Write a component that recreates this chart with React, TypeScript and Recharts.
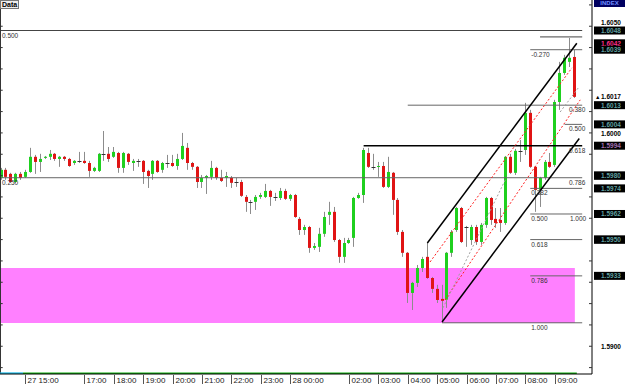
import React from "react";
import {
  ComposedChart,
  Bar,
  XAxis,
  YAxis,
  ReferenceLine,
  ReferenceArea,
  ReferenceDot,
} from "recharts";

// 10-minute candles, 27th 14:10 -> 28th 09:40
const opens = [
  1.59789, 1.59827, 1.59808, 1.5977, 1.59808, 1.59794, 1.59817, 1.59888, 1.59864, 1.59883,
  1.59888, 1.59902, 1.59878, 1.59888, 1.59878, 1.59859, 1.59869, 1.59869, 1.59859, 1.59822,
  1.59822, 1.59902, 1.59902, 1.59888, 1.59906, 1.59836, 1.59902, 1.59859, 1.59869, 1.59869,
  1.59822, 1.59808, 1.59869, 1.59827, 1.59859, 1.59859, 1.59845, 1.59878, 1.5993, 1.59859,
  1.59841, 1.5977, 1.59789, 1.59794, 1.59836, 1.59789, 1.59789, 1.59789, 1.5977, 1.5977,
  1.597, 1.59677, 1.59677, 1.597, 1.597, 1.59728, 1.597, 1.59695, 1.59728, 1.59691,
  1.59709, 1.59597, 1.59545, 1.59559, 1.59461, 1.59466, 1.59527, 1.59616, 1.5963, 1.59498,
  1.59419, 1.59484, 1.59508, 1.59695, 1.59709, 1.59906, 1.59841, 1.59841, 1.59845, 1.59747,
  1.59813, 1.59686, 1.59536, 1.59438, 1.5925, 1.59297, 1.59367, 1.59419, 1.5932, 1.59269,
  1.59222, 1.59217, 1.59438, 1.59545, 1.59648, 1.59559, 1.59498, 1.59559, 1.59489, 1.59569,
  1.59695, 1.59597, 1.59592, 1.59578, 1.59888, 1.59813, 1.59916, 1.5992, 1.60094, 1.59841,
  1.59733, 1.59789, 1.59864, 1.5985, 1.60145, 1.60281, 1.60333, 1.60356,
];
const highs = [
  1.59836, 1.59836, 1.59813, 1.59813, 1.59817, 1.59827, 1.5993, 1.59897, 1.59902, 1.59892,
  1.5992, 1.59906, 1.59892, 1.59892, 1.59883, 1.59873, 1.59911, 1.59911, 1.59869, 1.59841,
  1.59906, 1.60009, 1.59934, 1.59934, 1.59911, 1.59911, 1.59906, 1.59878, 1.59878, 1.59873,
  1.59827, 1.59873, 1.59873, 1.59864, 1.59897, 1.59897, 1.59902, 1.6, 1.59953, 1.59864,
  1.59845, 1.59803, 1.59803, 1.59869, 1.59841, 1.59827, 1.59817, 1.59798, 1.59789, 1.5978,
  1.59709, 1.59686, 1.59709, 1.59719, 1.59761, 1.59733, 1.59719, 1.59742, 1.59738, 1.59714,
  1.59714, 1.59606, 1.59569, 1.59564, 1.59484, 1.59555, 1.5963, 1.59677, 1.59653, 1.59503,
  1.59508, 1.59508, 1.597, 1.59719, 1.5993, 1.5993, 1.59902, 1.59864, 1.59864, 1.59888,
  1.59817, 1.59695, 1.59545, 1.59442, 1.59302, 1.59381, 1.59419, 1.59484, 1.59325, 1.59288,
  1.59288, 1.59442, 1.59545, 1.59653, 1.59653, 1.59564, 1.59569, 1.59569, 1.59578, 1.597,
  1.597, 1.59648, 1.59648, 1.59892, 1.59902, 1.59925, 1.59967, 1.60141, 1.60108, 1.59845,
  1.59794, 1.59873, 1.59906, 1.60155, 1.60333, 1.60366, 1.60445, 1.60389,
];
const lows = [
  1.5978, 1.5978, 1.59766, 1.59766, 1.5978, 1.59789, 1.59813, 1.59808, 1.59817, 1.59878,
  1.59873, 1.59869, 1.59841, 1.59869, 1.59841, 1.5985, 1.59859, 1.59855, 1.59794, 1.59817,
  1.59817, 1.59869, 1.59864, 1.59883, 1.59813, 1.59813, 1.5985, 1.59822, 1.59841, 1.59761,
  1.59742, 1.5978, 1.59813, 1.59813, 1.59836, 1.59841, 1.59827, 1.59873, 1.59827, 1.59827,
  1.59742, 1.59742, 1.59714, 1.5978, 1.5978, 1.5977, 1.59747, 1.59742, 1.59747, 1.597,
  1.5963, 1.5962, 1.59639, 1.59691, 1.59695, 1.59658, 1.59681, 1.59686, 1.59686, 1.59681,
  1.59602, 1.59522, 1.59522, 1.59438, 1.59452, 1.59442, 1.59513, 1.59569, 1.59489, 1.59391,
  1.59391, 1.5948, 1.59466, 1.59691, 1.59672, 1.59836, 1.59827, 1.59794, 1.59742, 1.59742,
  1.59616, 1.59522, 1.59419, 1.59203, 1.5917, 1.59278, 1.59348, 1.59316, 1.5925, 1.59203,
  1.59114, 1.5918, 1.59419, 1.59536, 1.59484, 1.59466, 1.59475, 1.59475, 1.59475, 1.59555,
  1.59569, 1.59555, 1.59536, 1.59569, 1.59808, 1.59803, 1.59864, 1.59897, 1.59836, 1.5963,
  1.59653, 1.5978, 1.59836, 1.59841, 1.60108, 1.60272, 1.60309, 1.60164,
];
const closes = [
  1.59827, 1.59794, 1.5977, 1.59808, 1.59789, 1.59817, 1.59888, 1.59864, 1.59878, 1.59888,
  1.59902, 1.59878, 1.59888, 1.59878, 1.59845, 1.59869, 1.59869, 1.59859, 1.59822, 1.59836,
  1.59902, 1.59902, 1.59878, 1.59911, 1.59836, 1.59906, 1.59864, 1.59869, 1.59869, 1.59817,
  1.59798, 1.59869, 1.59817, 1.59859, 1.59859, 1.59845, 1.59878, 1.59939, 1.59859, 1.59841,
  1.5977, 1.59789, 1.59798, 1.59836, 1.59789, 1.59775, 1.59798, 1.59766, 1.5977, 1.59705,
  1.59677, 1.59677, 1.597, 1.59709, 1.59728, 1.597, 1.597, 1.59728, 1.59691, 1.59709,
  1.59606, 1.59545, 1.59559, 1.59461, 1.5947, 1.59527, 1.59606, 1.5963, 1.59498, 1.59419,
  1.59484, 1.59498, 1.59695, 1.59709, 1.5992, 1.59841, 1.59841, 1.59845, 1.59747, 1.59817,
  1.59686, 1.59536, 1.59438, 1.5925, 1.59297, 1.59367, 1.59409, 1.5932, 1.59269, 1.59217,
  1.59213, 1.59438, 1.59536, 1.59648, 1.59489, 1.59559, 1.59559, 1.59489, 1.59569, 1.59695,
  1.59592, 1.59578, 1.59578, 1.59888, 1.59813, 1.59916, 1.59916, 1.60094, 1.59841, 1.59733,
  1.59789, 1.59864, 1.59841, 1.60145, 1.60281, 1.60352, 1.60352, 1.60169,
];

const hourTicks = [5, 17, 23, 29, 35, 41, 47, 53, 59, 71, 77, 83, 89, 95, 101, 107, 113];
const hourLabels = [
  "27 15:00", "17:00", "18:00", "19:00", "20:00", "21:00", "22:00", "23:00",
  "28 00:00", "02:00", "03:00", "04:00", "05:00", "06:00", "07:00", "08:00", "09:00",
];

const priceTicks = [
  1.589, 1.59, 1.591, 1.592, 1.593, 1.594, 1.595, 1.596, 1.597,
  1.598, 1.599, 1.6, 1.601, 1.602, 1.603, 1.604, 1.605, 1.606,
];
const priceLabels = [1.59, 1.6, 1.605];

// price tags in the right margin
const tagPrices = [1.6048, 1.6042, 1.6039, 1.6013, 1.6004, 1.5994, 1.598, 1.5974, 1.5962, 1.595, 1.5933];
const tagColors = ["#5f9f9f", "#ff2e8a", "#5f9f9f", "#5f9f9f", "#5f9f9f", "#a070b0", "#5f9f9f", "#5f9f9f", "#5f9f9f", "#5f9f9f", "#5f9f9f"];
const lastPrice = 1.6017;

// fibonacci / horizontal levels: price, from candle
const levelPrices = [1.6048, 1.6045, 1.6039, 1.6013, 1.6004, 1.5994, 1.5979, 1.5974, 1.5962, 1.595, 1.5933, 1.5911];
const levelFrom = [-0.2, 110, 108, 83, 115, 74, -0.2, 108, 108, 108, 108, 90];
const levelText = [
  { at: 0, p: 1.6048, t: "0.500" },
  { at: 0, p: 1.5979, t: "0.250" },
  { at: 108, p: 1.6039, t: "-0.270" },
  { at: 115.7, p: 1.6013, t: "0.380" },
  { at: 115.7, p: 1.6004, t: "0.500" },
  { at: 115.7, p: 1.5994, t: "0.618" },
  { at: 115.7, p: 1.5979, t: "0.786" },
  { at: 108, p: 1.5974, t: "0.382" },
  { at: 108, p: 1.5962, t: "0.500" },
  { at: 115.9, p: 1.5962, t: "1.000" },
  { at: 108, p: 1.595, t: "0.618" },
  { at: 108, p: 1.5933, t: "0.786" },
  { at: 108, p: 1.5911, t: "1.000" },
];

// channel + inner lines [x1, y1, x2, y2]
const channelLines = [
  [87, 1.59484, 117.5, 1.6042],
  [90, 1.59114, 118, 1.59974],
];
const redLines = [
  [87.55, 1.59395, 116.5, 1.60305],
  [90.6, 1.59217, 118.2, 1.60155],
];
const greyLines = [
  [90.2, 1.5918, 102.9, 1.5978],
  [114.1, 1.60098, 117.8, 1.60211],
];

const zone = { x1: -0.2, x2: 117.1, lo: 1.59109, hi: 1.59367 };

const Y_TOP = 1.60623;
const Y_BOT = 1.5887;
const X_MIN = -0.2;
const X_MAX = 120.6;
const LINE_END = 118.6;
const PLOT_RIGHT = 592;

const GREEN = "#1fd01f";
const RED = "#e01414";
const FONT = "'Liberation Sans', Arial, sans-serif";

const candles = opens.map((o, i) => ({
  i,
  o,
  h: highs[i],
  l: lows[i],
  c: closes[i],
  range: [lows[i], highs[i]],
}));

const near = (a: number, b: number, tol = 0.000001) => Math.abs(a - b) < tol;

const Candle = (props: any) => {
  const { x, y, width, height, payload } = props;
  const { o, h, l, c } = payload;
  const top = Math.min(y, y + height);
  const bot = Math.max(y, y + height);
  const span = h - l || 1;
  const py = (p: number) => top + ((h - p) / span) * (bot - top);
  const cx = Math.floor(x + width / 2) + 0.5;
  const bTop = py(Math.max(o, c));
  const bBot = py(Math.min(o, c));
  const doji = Math.abs(c - o) < 0.00003;
  return (
    <g>
      <line x1={cx} x2={cx} y1={top} y2={bot} stroke="#8c8c8c" strokeWidth={1} />
      {doji ? (
        <line x1={cx - 2} x2={cx + 2} y1={Math.round(bTop) + 0.5} y2={Math.round(bTop) + 0.5} stroke="#333" />
      ) : (
        <rect
          x={cx - 1.5}
          y={bTop}
          width={3}
          height={Math.max(1, bBot - bTop)}
          fill={c > o ? GREEN : RED}
        />
      )}
    </g>
  );
};

const TimeTick = (props: any) => {
  const { x, payload } = props;
  const k = hourTicks.indexOf(payload.value);
  const px = Math.round(x) + 0.5;
  return (
    <g>
      <line x1={px} x2={px} y1={375} y2={384} stroke="#555" />
      <text x={px + 2} y={382.5} fontSize={8} fontFamily={FONT} fill="#222">
        {hourLabels[k]}
      </text>
    </g>
  );
};

// nudge a plain scale label away from a price tag sitting right next to it
const labelOffset = (v: number) => {
  const above = tagPrices.some((p) => p > v && p - v < 0.0005);
  const below = tagPrices.some((p) => p < v && v - p < 0.0005);
  if (above) return 2.8;
  if (below) return -1;
  return 2.3;
};

const PriceTick = (props: any) => {
  const { y, payload } = props;
  const v = payload.value;
  const tag = tagPrices.findIndex((p) => near(p, v));
  if (near(v, lastPrice)) {
    return (
      <g>
        <text x={595} y={y + 2.5} fontSize={5.5} fill="#000" fontFamily={FONT}>▲</text>
        <text x={601} y={y + 2.5} fontSize={6.5} fontWeight="bold" fill="#000" fontFamily={FONT}>
          {v.toFixed(4)}
        </text>
      </g>
    );
  }
  if (tag >= 0) {
    return (
      <g>
        <rect x={594} y={y - 4} width={31} height={8} fill="#000" />
        <text x={601} y={y + 2.5} fontSize={6.5} fontWeight="bold" fill={tagColors[tag]} fontFamily={FONT}>
          {v.toFixed(4)}
        </text>
      </g>
    );
  }
  const labelled = priceLabels.some((p) => near(p, v));
  return (
    <g>
      <line x1={PLOT_RIGHT - 3} x2={PLOT_RIGHT} y1={y} y2={y} stroke="#333" />
      {labelled && (
        <text x={601} y={y + labelOffset(v)} fontSize={6.5} fontWeight="bold" fill="#000" fontFamily={FONT}>
          {v.toFixed(4)}
        </text>
      )}
    </g>
  );
};

const LevelText = (t: string) => (props: any) => (
  <text x={props.cx + 1} y={props.cy + 7} fontSize={6.5} fontFamily={FONT} fill="#333">
    {t}
  </text>
);

export default function App() {
  return (
    <div style={{ position: "absolute", left: 0, top: 0, width: 625, height: 384, background: "#fff" }}>
      <ComposedChart
        width={625}
        height={384}
        data={candles}
        margin={{ top: 0, right: 0, bottom: 0, left: 0 }}
      >
        <XAxis
          dataKey="i"
          type="number"
          domain={[X_MIN, X_MAX]}
          allowDataOverflow
          ticks={hourTicks}
          interval={0}
          tick={TimeTick}
          tickLine={false}
          axisLine={{ stroke: "#000" }}
          height={10}
        />
        <YAxis
          orientation="right"
          type="number"
          domain={[Y_BOT, Y_TOP]}
          allowDataOverflow
          ticks={[...priceTicks, lastPrice, ...tagPrices]}
          interval={0}
          tick={PriceTick}
          tickLine={false}
          axisLine={{ stroke: "#000" }}
          width={33}
        />
        <ReferenceArea
          x1={zone.x1}
          x2={zone.x2}
          y1={zone.lo}
          y2={zone.hi}
          fill="#ff80ff"
          fillOpacity={1}
          stroke="none"
        />
        {levelPrices.map((p, k) => (
          <ReferenceLine
            key={"lv" + k}
            segment={[{ x: levelFrom[k], y: p }, { x: LINE_END, y: p }]}
            stroke={k === 5 ? "#000" : k === 0 || k === 1 ? "#444" : "#666"}
            strokeWidth={k === 5 ? 1.6 : 1}
          />
        ))}
        <Bar dataKey="range" barSize={3} isAnimationActive={false} shape={Candle} />
        {channelLines.map((s, k) => (
          <ReferenceLine
            key={"ch" + k}
            segment={[{ x: s[0], y: s[1] }, { x: s[2], y: s[3] }]}
            stroke="#000"
            strokeWidth={1.5}
          />
        ))}
        {redLines.map((s, k) => (
          <ReferenceLine
            key={"rd" + k}
            segment={[{ x: s[0], y: s[1] }, { x: s[2], y: s[3] }]}
            stroke="#ff2020"
            strokeDasharray="2 2"
          />
        ))}
        {greyLines.map((s, k) => (
          <ReferenceLine
            key={"gr" + k}
            segment={[{ x: s[0], y: s[1] }, { x: s[2], y: s[3] }]}
            stroke="#a0a0a0"
            strokeDasharray="2 2"
          />
        ))}
        <ReferenceLine x={X_MIN + 0.1} stroke="#333" />
        {priceTicks.map((p) => (
          <ReferenceLine key={"lt" + p} segment={[{ x: X_MIN, y: p }, { x: 0.35, y: p }]} stroke="#333" />
        ))}
        <ReferenceLine segment={[{ x: X_MIN, y: Y_BOT + 0.00004 }, { x: 4.5, y: Y_BOT + 0.00004 }]} stroke="#10b8e8" strokeWidth={1.5} />
        <ReferenceLine segment={[{ x: 4.5, y: Y_BOT + 0.00004 }, { x: 117.5, y: Y_BOT + 0.00004 }]} stroke="#10b010" strokeWidth={1.5} />
        {levelText.map((l, k) => (
          <ReferenceDot key={"tx" + k} x={l.at} y={l.p} r={0} shape={LevelText(l.t)} />
        ))}
      </ComposedChart>
      <div
        style={{
          position: "absolute",
          left: 0,
          top: 0,
          border: "1px solid #777",
          background: "#eee",
          fontFamily: FONT,
          fontWeight: "bold",
          fontSize: 7,
          lineHeight: "7px",
          padding: "0 1px",
        }}
      >
        Data
      </div>
      <div
        style={{
          position: "absolute",
          left: 594,
          top: 0,
          width: 31,
          height: 7,
          background: "#000060",
          color: "#6f8fff",
          fontFamily: FONT,
          fontWeight: "bold",
          fontSize: 6,
          lineHeight: "7px",
          textAlign: "center",
        }}
      >
        INDEX
      </div>
    </div>
  );
}
